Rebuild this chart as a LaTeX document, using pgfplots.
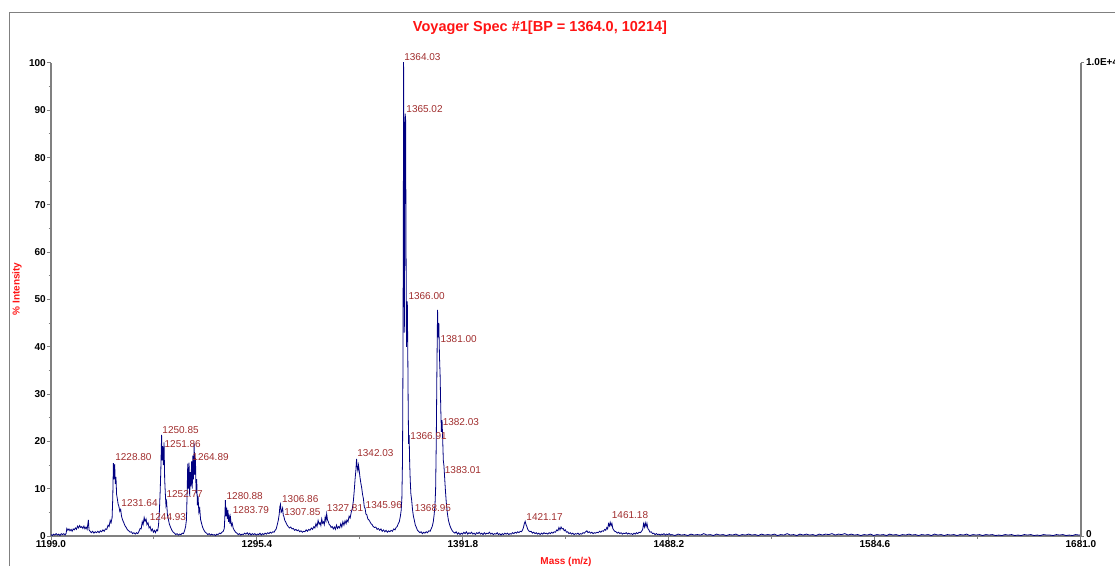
\documentclass[border=0pt]{standalone}
\usepackage{fontspec}
\setmainfont{Liberation Sans}
\usepackage{pgfplots}
\usepackage{pgfplotstable}
\pgfplotsset{compat=1.18}
\definecolor{axgray}{RGB}{128,128,128}
\definecolor{specblue}{RGB}{0,0,128}
\definecolor{pklbl}{RGB}{160,45,45}
\definecolor{ttlred}{RGB}{255,20,20}
\tikzset{lbl/.style={text=pklbl, font=\fontsize{10}{12}\selectfont, anchor=west, inner sep=0.5pt}}

\pgfplotstableread{
mz I
1199.0 0.3
1199.6 0.1
1200.2 0.4
1200.8 0.2
1201.4 0.5
1202.0 0.2
1202.6 0.4
1203.2 0.1
1203.8 0.5
1204.4 0.3
1205.0 0.5
1205.6 0.2
1206.1 0.6
1206.4 1.6
1206.9 1.2
1207.4 1.5
1207.9 1.1
1208.4 1.4
1208.9 1.0
1209.4 1.5
1209.9 1.3
1210.4 1.7
1210.9 1.4
1211.4 2.1
1211.9 1.7
1212.4 2.2
1212.9 1.8
1213.4 2.0
1213.9 1.6
1214.4 2.1
1214.9 1.5
1215.4 1.9
1215.9 1.4
1216.5 3.4
1216.8 1.3
1217.3 1.0
1217.9 0.7
1218.5 1.0
1219.1 0.6
1219.7 0.9
1220.3 0.7
1220.9 1.0
1221.5 0.7
1222.1 1.1
1222.7 0.9
1223.3 1.3
1223.9 1.0
1224.5 1.5
1225.1 1.4
1225.7 2.3
1226.2 2.0
1226.7 3.3
1227.1 2.8
1227.6 3.9
1227.9 8.0
1228.2 15.4
1228.5 12.0
1228.8 15.2
1229.1 11.0
1229.4 12.5
1229.7 8.8
1230.0 8.0
1230.4 6.8
1230.8 6.2
1231.2 5.2
1231.6 5.6
1232.0 4.2
1232.5 3.4
1233.0 2.9
1233.6 2.2
1234.2 1.8
1234.8 1.3
1235.4 1.1
1236.0 0.8
1236.6 0.9
1237.2 0.5
1237.8 0.7
1238.4 0.4
1239.0 0.7
1239.6 0.5
1240.2 1.0
1240.7 1.6
1241.2 1.5
1241.7 3.0
1242.1 2.4
1242.6 3.9
1243.0 3.1
1243.5 3.6
1243.9 2.4
1244.4 2.8
1244.9 1.7
1245.4 2.0
1245.9 1.1
1246.4 1.5
1246.9 0.8
1247.4 1.2
1247.9 0.7
1248.4 1.3
1248.9 1.1
1249.3 2.2
1249.7 5.0
1250.1 9.5
1250.4 14.0
1250.75 21.4
1251.0 16.0
1251.3 19.0
1251.6 15.0
1251.9 19.8
1252.2 12.0
1252.5 9.0
1252.8 6.5
1253.1 7.2
1253.5 4.4
1253.9 3.6
1254.4 2.5
1255.0 1.8
1255.6 1.2
1256.2 0.8
1256.8 0.6
1257.4 0.3
1258.0 0.5
1258.6 0.2
1259.2 0.4
1259.8 0.3
1260.4 0.6
1261.0 0.5
1261.5 1.1
1262.0 2.0
1262.4 3.5
1262.7 9.0
1263.0 15.3
1263.3 10.0
1263.6 15.5
1263.9 8.5
1264.2 13.5
1264.5 10.5
1264.8 15.8
1265.1 10.0
1265.4 17.0
1265.7 12.0
1266.0 19.6
1266.3 13.0
1266.6 16.5
1266.9 9.0
1267.2 12.0
1267.5 6.5
1267.8 8.5
1268.2 5.0
1268.6 5.8
1269.0 3.5
1269.5 2.6
1270.0 1.8
1270.6 1.2
1271.2 0.8
1271.8 0.6
1272.4 0.3
1273.0 0.5
1273.6 0.2
1274.2 0.4
1274.8 0.2
1275.4 0.3
1276.0 0.1
1276.6 0.4
1277.2 0.3
1277.8 0.6
1278.4 0.5
1279.0 0.8
1279.6 1.0
1280.1 1.6
1280.4 4.5
1280.6 7.6
1280.9 4.2
1281.2 6.0
1281.5 3.6
1281.8 5.5
1282.1 3.0
1282.4 4.5
1282.7 2.6
1283.0 3.9
1283.4 2.2
1283.8 2.7
1284.3 1.6
1284.8 1.2
1285.4 0.8
1286.0 0.6
1286.6 0.3
1287.2 0.5
1287.8 0.2
1288.4 0.4
1289.0 0.3
1289.6 0.6
1290.2 0.4
1290.8 0.7
1291.4 0.3
1292.0 0.6
1292.6 0.2
1293.2 0.5
1293.8 0.3
1294.4 0.5
1295.0 0.2
1295.6 0.4
1296.2 0.3
1296.8 0.6
1297.4 0.2
1298.0 0.5
1298.6 0.3
1299.2 0.6
1299.8 0.4
1300.4 0.7
1301.0 0.5
1301.6 0.8
1302.2 0.6
1302.8 0.9
1303.4 0.8
1303.9 1.2
1304.4 1.5
1304.9 2.4
1305.4 3.4
1305.8 4.6
1306.1 6.2
1306.4 6.7
1306.7 5.0
1307.0 5.2
1307.4 5.9
1307.7 4.4
1308.0 4.1
1308.4 3.3
1308.8 3.0
1309.4 2.4
1310.0 2.0
1310.6 1.7
1311.2 1.9
1311.8 1.5
1312.4 1.6
1313.0 1.2
1313.6 1.4
1314.2 1.1
1314.8 1.3
1315.4 0.9
1316.0 1.1
1316.6 0.8
1317.2 1.0
1317.8 0.9
1318.4 1.3
1319.0 1.0
1319.6 1.4
1320.2 1.2
1320.8 1.7
1321.4 1.4
1322.0 2.0
1322.5 1.7
1323.0 2.6
1323.5 2.0
1324.0 3.3
1324.5 2.5
1324.9 2.8
1325.3 2.2
1325.7 3.6
1326.1 2.7
1326.5 3.0
1326.9 2.4
1327.3 4.0
1327.7 3.2
1328.0 4.7
1328.4 3.4
1328.8 3.0
1329.2 2.4
1329.6 2.3
1330.1 1.8
1330.6 2.0
1331.1 1.5
1331.6 1.9
1332.1 1.4
1332.6 2.3
1333.1 1.6
1333.6 2.0
1334.1 1.7
1334.6 2.6
1335.1 1.9
1335.6 3.0
1336.1 2.3
1336.6 3.2
1337.1 2.6
1337.5 3.4
1338.0 3.0
1338.5 4.2
1339.0 3.8
1339.5 5.0
1340.0 5.8
1340.5 7.4
1340.9 9.5
1341.3 12.0
1341.7 14.0
1342.0 16.3
1342.3 14.5
1342.6 13.8
1342.9 15.0
1343.2 14.0
1343.6 12.4
1344.0 11.2
1344.4 10.2
1344.8 8.8
1345.2 7.9
1345.6 6.2
1346.0 5.8
1346.4 4.6
1346.8 4.5
1347.3 3.6
1347.8 3.4
1348.3 3.0
1348.8 2.6
1349.3 2.4
1349.8 2.0
1350.4 1.8
1351.0 1.9
1351.6 1.4
1352.2 1.6
1352.8 1.2
1353.4 1.5
1354.0 1.0
1354.6 1.3
1355.2 0.9
1355.8 1.2
1356.4 0.8
1357.0 1.1
1357.6 0.9
1358.2 1.2
1358.8 1.0
1359.4 1.5
1360.0 1.3
1360.5 1.8
1361.0 2.0
1361.5 2.6
1362.0 3.0
1362.5 4.2
1362.9 5.5
1363.2 8.0
1363.5 16.0
1363.7 35.0
1363.9 70.0
1364.0 100.2
1364.2 82.0
1364.35 43.0
1364.55 65.0
1364.75 89.3
1364.95 88.0
1365.15 62.0
1365.35 40.0
1365.55 43.0
1365.75 49.6
1365.95 40.0
1366.15 28.0
1366.35 19.5
1366.6 21.3
1366.85 15.5
1367.1 12.0
1367.4 9.0
1367.8 7.5
1368.2 5.5
1368.6 4.2
1369.0 3.4
1369.5 2.3
1370.0 1.8
1370.5 1.2
1371.0 1.0
1371.6 0.7
1372.2 0.9
1372.8 0.5
1373.4 0.8
1374.0 0.6
1374.6 0.9
1375.2 0.7
1375.8 1.1
1376.4 1.0
1376.9 1.5
1377.4 2.0
1377.9 3.0
1378.3 4.5
1378.7 6.5
1379.0 10.0
1379.3 20.0
1379.6 35.0
1379.9 47.8
1380.2 42.0
1380.5 45.0
1380.8 38.0
1381.1 34.0
1381.4 27.0
1381.7 22.0
1382.0 24.5
1382.3 20.5
1382.6 16.0
1382.9 14.8
1383.2 12.5
1383.6 9.5
1384.0 7.0
1384.5 4.8
1385.0 3.3
1385.6 2.3
1386.2 1.6
1386.8 1.1
1387.4 0.8
1388.0 0.6
1388.6 0.9
1389.2 0.4
1389.8 0.7
1390.4 0.3
1391.0 0.6
1391.6 0.4
1392.2 0.8
1392.8 0.5
1393.4 0.9
1394.0 0.4
1394.6 0.7
1395.2 0.5
1395.8 0.8
1396.4 0.4
1397.0 0.6
1397.6 0.3
1398.2 0.7
1398.8 0.5
1399.4 0.8
1400.0 0.4
1400.6 0.6
1401.2 0.3
1401.8 0.7
1402.4 0.4
1403.0 0.6
1403.6 0.5
1404.2 0.8
1404.8 0.4
1405.4 0.6
1406.0 0.3
1406.6 0.5
1407.2 0.4
1407.8 0.7
1408.4 0.3
1409.0 0.5
1409.6 0.2
1410.2 0.5
1410.8 0.3
1411.4 0.6
1412.0 0.4
1412.6 0.6
1413.2 0.3
1413.8 0.5
1414.4 0.4
1415.0 0.7
1415.6 0.5
1416.2 0.8
1416.8 0.6
1417.4 0.9
1418.0 0.7
1418.6 1.0
1419.2 0.9
1419.7 1.3
1420.1 1.8
1420.5 2.6
1420.9 3.1
1421.3 2.4
1421.7 2.0
1422.1 1.4
1422.6 1.1
1423.1 0.9
1423.7 1.0
1424.3 0.6
1424.9 0.8
1425.5 0.5
1426.1 0.7
1426.7 0.4
1427.3 0.6
1427.9 0.3
1428.5 0.6
1429.1 0.4
1429.7 0.7
1430.3 0.5
1430.9 0.6
1431.5 0.4
1432.1 0.7
1432.7 0.5
1433.3 0.8
1433.9 0.6
1434.5 0.9
1435.1 0.8
1435.7 1.3
1436.2 1.1
1436.7 1.8
1437.2 1.3
1437.7 1.9
1438.2 1.5
1438.7 1.6
1439.2 1.1
1439.7 1.3
1440.2 0.8
1440.8 0.9
1441.4 0.5
1442.0 0.7
1442.6 0.4
1443.2 0.6
1443.8 0.3
1444.4 0.5
1445.0 0.4
1445.6 0.6
1446.2 0.3
1446.8 0.5
1447.4 0.4
1448.0 0.7
1448.6 0.6
1449.2 0.9
1449.8 1.1
1450.3 0.7
1450.9 0.9
1451.5 0.6
1452.1 0.8
1452.7 0.5
1453.3 0.7
1453.9 0.6
1454.5 0.8
1455.1 0.7
1455.7 1.0
1456.3 0.8
1456.9 1.1
1457.5 1.0
1458.1 1.4
1458.6 1.2
1459.1 1.8
1459.5 1.5
1459.9 2.6
1460.3 2.1
1460.7 2.9
1461.1 2.2
1461.5 2.7
1461.9 1.6
1462.3 1.3
1462.8 1.0
1463.4 0.9
1464.0 0.6
1464.6 0.8
1465.2 0.5
1465.8 0.7
1466.4 0.4
1467.0 0.6
1467.6 0.5
1468.2 0.7
1468.8 0.4
1469.4 0.6
1470.0 0.4
1470.6 0.5
1471.2 0.3
1471.8 0.6
1472.4 0.4
1473.0 0.7
1473.6 0.5
1474.2 0.8
1474.8 0.7
1475.4 1.0
1475.9 1.4
1476.3 2.6
1476.7 1.9
1477.1 2.8
1477.5 2.0
1477.9 2.7
1478.3 1.6
1478.8 1.3
1479.3 0.8
1479.9 0.9
1480.5 0.5
1481.1 0.6
1481.7 0.3
1482.3 0.5
1482.9 0.3
1483.5 0.4
1484.1 0.2
1484.7 0.4
1485.3 0.3
1485.9 0.5
1486.5 0.2
1487.1 0.4
1487.7 0.3
1488.3 0.5
1488.9 0.2
1489.5 0.3
1491.0 0.1
1492.5 0.4
1494.0 0.2
1495.5 0.3
1497.0 0.1
1498.5 0.4
1500.0 0.2
1501.5 0.3
1503.0 0.2
1504.5 0.5
1506.0 0.2
1507.5 0.3
1509.0 0.1
1510.5 0.4
1512.0 0.2
1513.5 0.3
1515.0 0.1
1516.5 0.3
1518.0 0.2
1519.5 0.4
1521.0 0.1
1522.5 0.3
1524.0 0.2
1525.5 0.4
1527.0 0.2
1528.5 0.3
1530.0 0.1
1531.5 0.4
1533.0 0.2
1534.5 0.3
1536.0 0.2
1537.5 0.4
1539.0 0.1
1540.5 0.3
1542.0 0.2
1543.5 0.5
1545.0 0.2
1546.5 0.3
1548.0 0.1
1549.5 0.4
1551.0 0.2
1552.5 0.4
1554.0 0.2
1555.5 0.3
1557.0 0.1
1558.5 0.4
1560.0 0.2
1561.5 0.4
1563.0 0.3
1564.5 0.5
1566.0 0.2
1567.5 0.4
1569.0 0.3
1570.5 0.5
1572.0 0.2
1573.5 0.4
1575.0 0.2
1576.5 0.3
1578.0 0.1
1579.5 0.3
1581.0 0.2
1582.5 0.4
1584.0 0.1
1585.5 0.3
1587.0 0.2
1588.5 0.3
1590.0 0.1
1591.5 0.4
1593.0 0.2
1594.5 0.3
1596.0 0.1
1597.5 0.3
1599.0 0.2
1600.5 0.4
1602.0 0.2
1603.5 0.3
1605.0 0.1
1606.5 0.3
1608.0 0.2
1609.5 0.3
1611.0 0.1
1612.5 0.4
1614.0 0.2
1615.5 0.3
1617.0 0.1
1618.5 0.3
1620.0 0.2
1621.5 0.3
1623.0 0.1
1624.5 0.3
1626.0 0.2
1627.5 0.4
1629.0 0.1
1630.5 0.3
1632.0 0.2
1633.5 0.3
1635.0 0.1
1636.5 0.3
1638.0 0.2
1639.5 0.3
1641.0 0.1
1642.5 0.2
1644.0 0.1
1645.5 0.3
1647.0 0.2
1648.5 0.3
1650.0 0.1
1651.5 0.2
1653.0 0.1
1654.5 0.3
1656.0 0.2
1657.5 0.3
1659.0 0.1
1660.5 0.2
1662.0 0.1
1663.5 0.3
1665.0 0.2
1666.5 0.2
1668.0 0.1
1669.5 0.3
1671.0 0.2
1672.5 0.3
1674.0 0.1
1675.5 0.2
1677.0 0.1
1678.5 0.3
1680.0 0.2
1681.0 0.2
}\spectrum

\begin{document}
\begin{tikzpicture}[x=1pt,y=1pt]
\useasboundingbox (0,0) rectangle (1115,566);
% outer frame (left and top edges only show)
\draw[axgray, line width=0.8pt] (9,0) -- (9,554) -- (1120,554);
\node[text=ttlred, font=\fontsize{14.5}{16}\selectfont\bfseries] at (540,538) {Voyager Spec \#1[BP = 1364.0, 10214]};
\node[text=ttlred, font=\fontsize{10}{12}\selectfont\bfseries, rotate=90] at (17,277) {\% Intensity};
\node[text=ttlred, font=\fontsize{10}{12}\selectfont\bfseries] at (566,4) {Mass (m/z)};

\begin{axis}[
    at={(51pt,30pt)}, anchor=south west,
    scale only axis, width=1030pt, height=473pt,
    xmin=1199, xmax=1681, ymin=0, ymax=100,
    axis x line*=bottom, axis y line*=left,
    axis line style={draw=axgray, line width=1.5pt},
    xtick={1199,1295.4,1391.8,1488.2,1584.6,1681},
    xticklabels={1199.0,1295.4,1391.8,1488.2,1584.6,1681.0},
    ytick={0,10,...,100},
    minor x tick num=1, minor y tick num=1,
    tick align=outside,
    major tick length=4pt, minor tick length=2.5pt,
    tick style={draw=axgray, line width=1pt},
    ticklabel style={font=\fontsize{10}{12}\selectfont\bfseries},
    xticklabel style={inner sep=0.5pt},
    yticklabel style={inner sep=1pt},
    /pgf/number format/assume math mode=true,
    clip=false,
]
\addplot[specblue, line width=0.8pt, mark=none] table[x=mz, y=I] {\spectrum};

% right-hand axis
\draw[axgray, line width=1.5pt] (rel axis cs:1,0) -- (rel axis cs:1,1);
\draw[axgray, line width=1pt] (rel axis cs:1,1) -- ([xshift=3pt]rel axis cs:1,1);
\draw[axgray, line width=1pt] (rel axis cs:1,0) -- ([xshift=3pt]rel axis cs:1,0);
\node[anchor=west, inner sep=0pt, font=\fontsize{10}{12}\selectfont\bfseries] at ([xshift=5pt,yshift=1pt]rel axis cs:1,1) {1.0E+4};
\node[anchor=west, inner sep=0pt, font=\fontsize{10}{12}\selectfont\bfseries] at ([xshift=5pt,yshift=2pt]rel axis cs:1,0) {0};

% peak labels
\node[lbl] at (axis cs:1364.03,101.3) {1364.03};
\node[lbl] at (axis cs:1365.02,90.3) {1365.02};
\node[lbl] at (axis cs:1366.00,50.7) {1366.00};
\node[lbl] at (axis cs:1381.00,41.6) {1381.00};
\node[lbl] at (axis cs:1382.03,24.1) {1382.03};
\node[lbl] at (axis cs:1366.91,21.1) {1366.91};
\node[lbl] at (axis cs:1383.01,14.0) {1383.01};
\node[lbl] at (axis cs:1342.03,17.5) {1342.03};
\node[lbl] at (axis cs:1250.85,22.4) {1250.85};
\node[lbl] at (axis cs:1251.86,19.5) {1251.86};
\node[lbl] at (axis cs:1264.89,16.7) {1264.89};
\node[lbl] at (axis cs:1228.80,16.7) {1228.80};
\node[lbl] at (axis cs:1231.64,7.0) {1231.64};
\node[lbl] at (axis cs:1252.77,8.9) {1252.77};
\node[lbl] at (axis cs:1244.93,4.0) {1244.93};
\node[lbl] at (axis cs:1280.88,8.5) {1280.88};
\node[lbl] at (axis cs:1283.79,5.5) {1283.79};
\node[lbl] at (axis cs:1306.86,7.8) {1306.86};
\node[lbl] at (axis cs:1307.85,5.1) {1307.85};
\node[lbl] at (axis cs:1327.81,5.9) {1327.81};
\node[lbl] at (axis cs:1345.96,6.6) {1345.96};
\node[lbl] at (axis cs:1368.95,5.9) {1368.95};
\node[lbl] at (axis cs:1421.17,4.0) {1421.17};
\node[lbl] at (axis cs:1461.18,4.4) {1461.18};
\end{axis}
\end{tikzpicture}
\end{document}
